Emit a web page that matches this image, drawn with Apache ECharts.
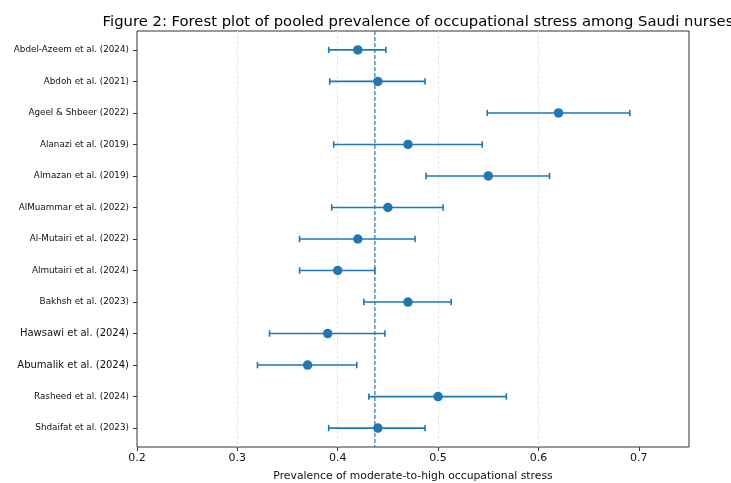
<!DOCTYPE html>
<html>
<head>
<meta charset="utf-8">
<script src="https://cdn.jsdelivr.net/npm/echarts@6/dist/echarts.min.js"></script>
<style>html,body{margin:0;padding:0;background:#fff;}#chart{width:731px;height:483px;}</style>
</head>
<body>
<div id="chart"></div>
<script>
const studies = [
  "Abdel-Azeem et al. (2024)",
  "Abdoh et al. (2021)",
  "Ageel & Shbeer (2022)",
  "Alanazi et al. (2019)",
  "Almazan et al. (2019)",
  "AlMuammar et al. (2022)",
  "Al-Mutairi et al. (2022)",
  "Almutairi et al. (2024)",
  "Bakhsh et al. (2023)",
  "Hawsawi et al. (2024)",
  "Abumalik et al. (2024)",
  "Rasheed et al. (2024)",
  "Shdaifat et al. (2023)"
];
const prevalence = [0.42, 0.44, 0.62, 0.47, 0.55, 0.45, 0.42, 0.40, 0.47, 0.39, 0.37, 0.50, 0.44];
const lowerCI    = [0.391, 0.392, 0.549, 0.396, 0.488, 0.394, 0.362, 0.362, 0.426, 0.332, 0.320, 0.431, 0.391];
const upperCI    = [0.448, 0.487, 0.691, 0.544, 0.611, 0.505, 0.477, 0.437, 0.513, 0.447, 0.419, 0.568, 0.487];
const pooled = 0.437;
const largeLabels = ["Hawsawi et al. (2024)", "Abumalik et al. (2024)"];
const xTicks = [0.2, 0.3, 0.4, 0.5, 0.6, 0.7];
const yMin = -0.6, yMax = 12.6;

const blue = '#1f77b4';
const font = 'DejaVu Sans';

const errData = studies.map((s, i) => [lowerCI[i], upperCI[i], i]);
const ptData = studies.map((s, i) => [prevalence[i], i]);

const chart = echarts.init(document.getElementById('chart'), null, {renderer: 'canvas'});
chart.setOption({
  animation: false,
  backgroundColor: '#fff',
  title: {
    text: 'Figure 2: Forest plot of pooled prevalence of occupational stress among Saudi nurses',
    left: 413, top: 10, textAlign: 'center',
    textStyle: {fontFamily: font, fontSize: 14.8, fontWeight: 'normal', color: '#000'}
  },
  grid: {left: 137, right: 42, top: 31, bottom: 36, show: true, borderColor: '#333', borderWidth: 1,
    backgroundColor: 'transparent', outerBoundsMode: 'none', containLabel: false},
  xAxis: {
    type: 'value', min: 0.2, max: 0.75, interval: 0.1,
    name: 'Prevalence of moderate-to-high occupational stress',
    nameLocation: 'middle', nameGap: 24,
    nameTextStyle: {fontFamily: font, fontSize: 10.8, color: '#111'},
    axisLine: {show: false, onZero: false},
    axisTick: {show: true, length: 4, lineStyle: {color: '#333'}, customValues: xTicks},
    axisLabel: {fontFamily: font, fontSize: 11, color: '#111', margin: 6, customValues: xTicks,
      formatter: v => String(Math.round(v * 10) / 10)},
    splitLine: {show: true, showMinLine: false, showMaxLine: false,
      lineStyle: {color: '#e4e4e4', width: 1, type: [3, 2]}}
  },
  yAxis: {
    type: 'value', min: yMin, max: yMax, inverse: true,
    axisLine: {show: false, onZero: false},
    axisTick: {show: true, length: 4, lineStyle: {color: '#333'}, customValues: studies.map((s, i) => i)},
    axisLabel: {
      customValues: studies.map((s, i) => i), margin: 8,
      fontFamily: font, fontSize: 8.8, color: '#111',
      formatter: v => {
        const s = studies[Math.round(v)];
        if (s === undefined) return '';
        return largeLabels.includes(s) ? '{big|' + s + '}' : s;
      },
      rich: {big: {fontFamily: font, fontSize: 10, color: '#111'}}
    },
    splitLine: {show: false}
  },
  series: [
    {
      type: 'custom',
      data: [[pooled, yMin, yMax]],
      encode: {x: 0, y: [1, 2]},
      z: 1,
      silent: true,
      renderItem: (params, api) => {
        const a = api.coord([api.value(0), api.value(1)]);
        const b = api.coord([api.value(0), api.value(2)]);
        return {type: 'line', shape: {x1: a[0], y1: a[1], x2: b[0], y2: b[1]},
          style: {stroke: blue, lineWidth: 1.2, lineDash: [4, 2]}};
      }
    },
    {
      type: 'custom',
      data: errData,
      encode: {x: [0, 1], y: 2},
      z: 2,
      renderItem: (params, api) => {
        const lo = api.coord([api.value(0), api.value(2)]);
        const hi = api.coord([api.value(1), api.value(2)]);
        const h = 3.2;
        const style = {stroke: blue, lineWidth: 1.6};
        return {
          type: 'group',
          children: [
            {type: 'line', shape: {x1: lo[0], y1: lo[1], x2: hi[0], y2: hi[1]}, style},
            {type: 'line', shape: {x1: lo[0], y1: lo[1] - h, x2: lo[0], y2: lo[1] + h}, style},
            {type: 'line', shape: {x1: hi[0], y1: hi[1] - h, x2: hi[0], y2: hi[1] + h}, style}
          ]
        };
      }
    },
    {
      type: 'scatter',
      data: ptData,
      symbol: 'circle',
      symbolSize: 9.5,
      itemStyle: {color: blue, opacity: 1},
      z: 3
    }
  ]
});
</script>
</body>
</html>
